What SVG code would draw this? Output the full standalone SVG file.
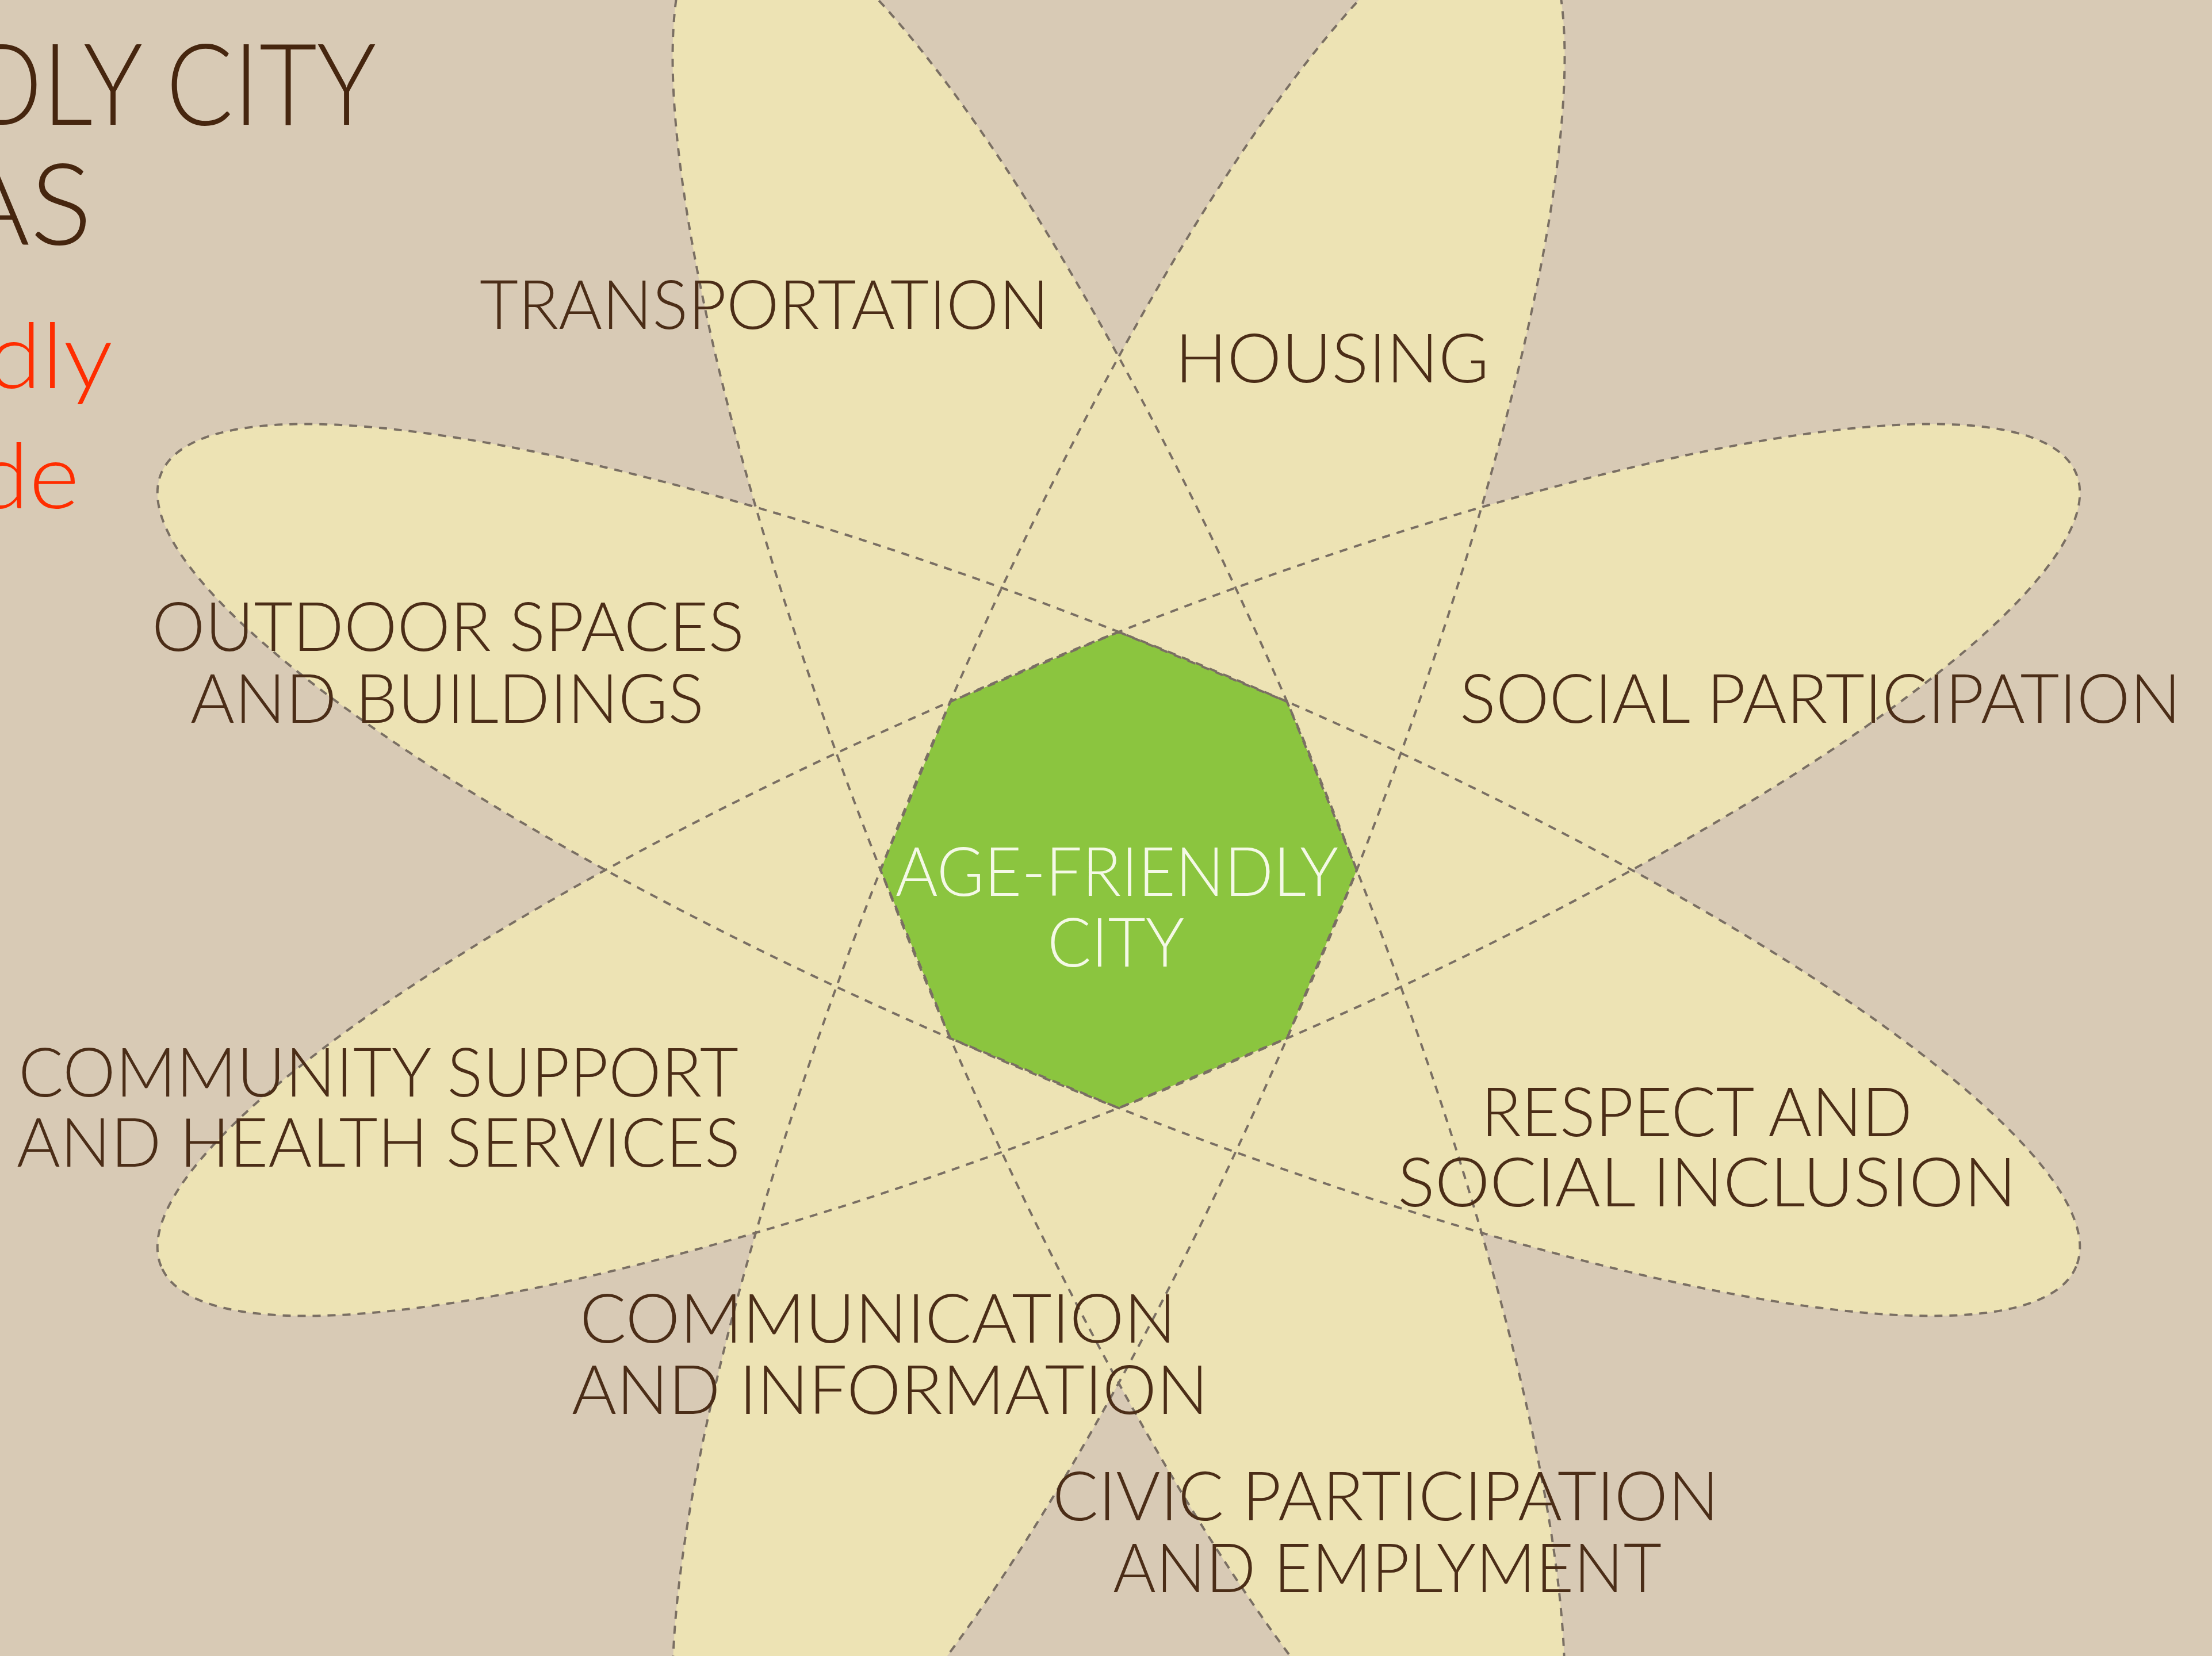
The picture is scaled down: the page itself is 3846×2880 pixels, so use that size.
<svg xmlns="http://www.w3.org/2000/svg" xmlns:xlink="http://www.w3.org/1999/xlink" width="3846" height="2880" viewBox="0 0 3846 2880">
  <style>
    .bg { fill: #d8cab5; }
    .petal-fill { fill: #ede3b4; stroke: none; }
    .petal-line { fill: none; stroke: #7a6f63; stroke-width: 4; stroke-dasharray: 14 12; }
    .hub { fill: #8bc53f; stroke: #7a6f63; stroke-width: 4; stroke-dasharray: 14 12; }
    .lbl { font-family: "Lato", "Liberation Sans", sans-serif; font-size: 118px; fill: #4b2d17; font-weight: 300; }
    .hub-lbl { font-family: "Lato", "Liberation Sans", sans-serif; font-size: 118px; fill: #f4f9e6; font-weight: 300; text-anchor: middle; }
    .title { font-family: "Lato", "Liberation Sans", sans-serif; font-size: 198px; fill: #46260f; font-weight: 300; }
    .sub { font-family: "Lato", "Liberation Sans", sans-serif; font-size: 158px; fill: #ff2d00; font-weight: 300; }
  </style>
  <defs>
    <ellipse id="petal" cx="0" cy="0" rx="1802" ry="384"/>
  </defs>

  <rect class="bg" x="0" y="0" width="3846" height="2880"/>

  <g id="petal-fills">
    <use xlink:href="#petal" class="petal-fill" transform="translate(1945 1513) rotate(22.5)"/>
    <use xlink:href="#petal" class="petal-fill" transform="translate(1945 1513) rotate(157.5)"/>
    <use xlink:href="#petal" class="petal-fill" transform="translate(1945 1513) rotate(67.5)"/>
    <use xlink:href="#petal" class="petal-fill" transform="translate(1945 1513) rotate(112.5)"/>
  </g>

  <g id="hub">
    <polygon class="hub" points="1945,1099 2237.7,1220.3 2359,1513 2237.7,1805.7 1945,1927 1652.3,1805.7 1531,1513 1652.3,1220.3"/>
    <text class="hub-lbl" x="1942" y="1558" textLength="770" lengthAdjust="spacingAndGlyphs">AGE-FRIENDLY</text>
    <text class="hub-lbl" x="1940" y="1681" textLength="238" lengthAdjust="spacingAndGlyphs">CITY</text>
  </g>

  <g id="connectors">
    <use xlink:href="#petal" class="petal-line" transform="translate(1945 1513) rotate(22.5)"/>
    <use xlink:href="#petal" class="petal-line" transform="translate(1945 1513) rotate(157.5)"/>
    <use xlink:href="#petal" class="petal-line" transform="translate(1945 1513) rotate(67.5)"/>
    <use xlink:href="#petal" class="petal-line" transform="translate(1945 1513) rotate(112.5)"/>
  </g>

  <g id="title">
    <text class="title" x="-58" y="217" textLength="712" lengthAdjust="spacingAndGlyphs">DLY CITY</text>
    <text class="title" x="-80" y="425" textLength="240" lengthAdjust="spacingAndGlyphs">AS</text>
    <text class="sub" x="-22" y="675" textLength="218" lengthAdjust="spacingAndGlyphs">dly</text>
    <text class="sub" x="-42" y="884" textLength="180" lengthAdjust="spacingAndGlyphs">de</text>
  </g>

  <g id="node-transportation">
    <text class="lbl" x="834" y="572" textLength="990" lengthAdjust="spacingAndGlyphs">TRANSPORTATION</text>
  </g>
  <g id="node-housing">
    <text class="lbl" x="2043" y="665" textLength="546" lengthAdjust="spacingAndGlyphs">HOUSING</text>
  </g>
  <g id="node-outdoor">
    <text class="lbl" x="264" y="1132" textLength="1030" lengthAdjust="spacingAndGlyphs">OUTDOOR SPACES</text>
    <text class="lbl" x="331" y="1257" textLength="893" lengthAdjust="spacingAndGlyphs">AND BUILDINGS</text>
  </g>
  <g id="node-social">
    <text class="lbl" x="2538" y="1257" textLength="1254" lengthAdjust="spacingAndGlyphs">SOCIAL PARTICIPATION</text>
  </g>
  <g id="node-community">
    <text class="lbl" x="32" y="1907" textLength="1252" lengthAdjust="spacingAndGlyphs">COMMUNITY SUPPORT</text>
    <text class="lbl" x="29" y="2029" textLength="1258" lengthAdjust="spacingAndGlyphs">AND HEALTH SERVICES</text>
  </g>
  <g id="node-respect">
    <text class="lbl" x="2575" y="1976" textLength="750" lengthAdjust="spacingAndGlyphs">RESPECT AND</text>
    <text class="lbl" x="2430" y="2098" textLength="1076" lengthAdjust="spacingAndGlyphs">SOCIAL INCLUSION</text>
  </g>
  <g id="node-communication">
    <text class="lbl" x="1008" y="2335" textLength="1037" lengthAdjust="spacingAndGlyphs">COMMUNICATION</text>
    <text class="lbl" x="994" y="2459" textLength="1107" lengthAdjust="spacingAndGlyphs">AND INFORMATION</text>
  </g>
  <g id="node-civic">
    <text class="lbl" x="1830" y="2644" textLength="1159" lengthAdjust="spacingAndGlyphs">CIVIC PARTICIPATION</text>
    <text class="lbl" x="1935" y="2769" textLength="954" lengthAdjust="spacingAndGlyphs">AND EMPLYMENT</text>
  </g>
</svg>
